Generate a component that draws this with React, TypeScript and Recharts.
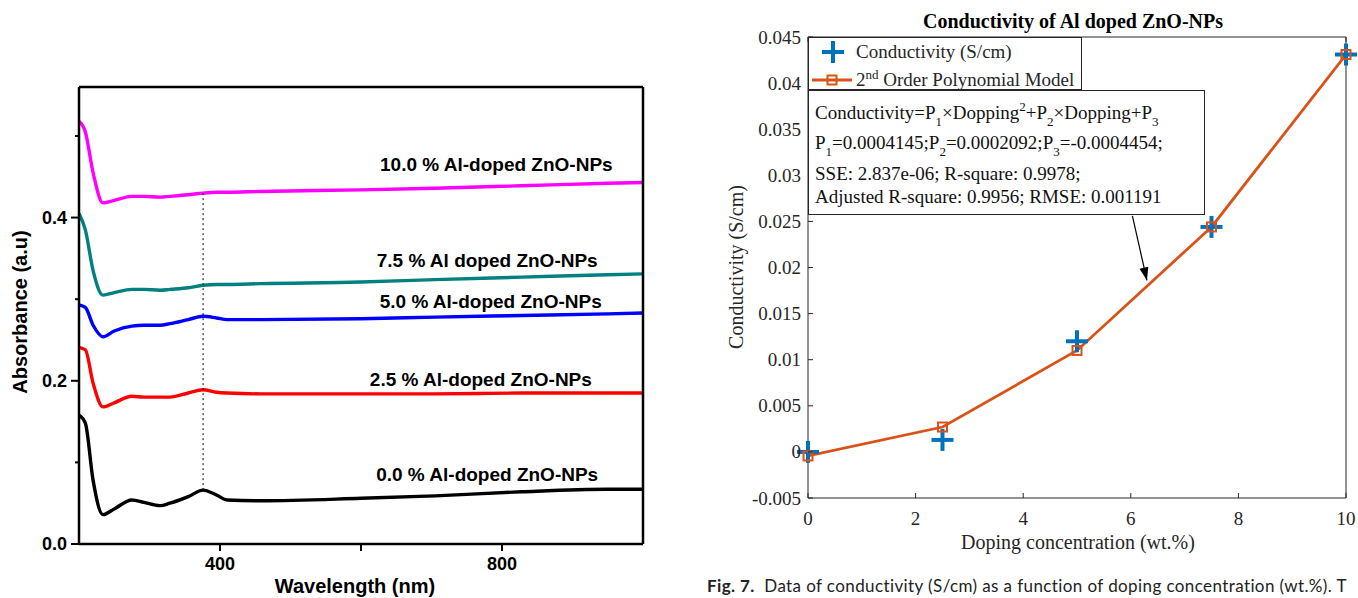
import React from 'react'
import { LineChart, Line, XAxis, YAxis, ReferenceLine, ReferenceDot, Legend } from 'recharts'

const SANS = '"Liberation Sans", Arial, sans-serif'
const SERIF = '"Liberation Serif", "Times New Roman", serif'

// left panel: UV-vis absorbance spectra
const wavelength = [200, 209, 220, 234, 250, 275, 292, 315, 329, 355, 376, 395, 410, 458, 600, 705, 828, 950, 1000]
const abs00 = [0.158, 0.148, 0.078, 0.036, 0.043, 0.054, 0.051, 0.047, 0.05, 0.058, 0.066, 0.06, 0.054, 0.053, 0.056, 0.059, 0.064, 0.067, 0.067]
const abs25 = [0.241, 0.238, 0.197, 0.168, 0.173, 0.181, 0.18, 0.18, 0.18, 0.185, 0.189, 0.186, 0.185, 0.184, 0.184, 0.184, 0.185, 0.185, 0.185]
const abs50 = [0.293, 0.29, 0.268, 0.254, 0.261, 0.267, 0.268, 0.268, 0.27, 0.275, 0.279, 0.277, 0.275, 0.275, 0.276, 0.278, 0.28, 0.282, 0.283]
const abs75 = [0.405, 0.385, 0.335, 0.305, 0.308, 0.312, 0.312, 0.311, 0.312, 0.314, 0.317, 0.318, 0.318, 0.319, 0.321, 0.324, 0.327, 0.33, 0.331]
const abs100 = [0.518, 0.505, 0.455, 0.418, 0.421, 0.426, 0.426, 0.425, 0.426, 0.428, 0.43, 0.431, 0.431, 0.432, 0.434, 0.436, 0.439, 0.442, 0.443]
const wlTicks = [400, 600, 800]
const absTicks = [0, 0.1, 0.2, 0.3, 0.4, 0.5]

const spectra = wavelength.map((w, i) => ({
  w,
  a00: abs00[i],
  a25: abs25[i],
  a50: abs50[i],
  a75: abs75[i],
  a100: abs100[i],
}))

const curves = [
  { key: 'a00', color: '#000000', name: '0.0 % Al-doped ZnO-NPs', lx: 779, ly: 0.085 },
  { key: 'a25', color: '#ff0000', name: '2.5 % Al-doped ZnO-NPs', lx: 770, ly: 0.201 },
  { key: 'a50', color: '#0000ff', name: '5.0 % Al-doped ZnO-NPs', lx: 784, ly: 0.297 },
  { key: 'a75', color: '#008080', name: '7.5 % Al doped ZnO-NPs', lx: 779, ly: 0.348 },
  { key: 'a100', color: '#ff00ff', name: '10.0 % Al-doped ZnO-NPs', lx: 792, ly: 0.465 },
]

// right panel: conductivity vs doping
const doping = [0, 2.5, 5, 7.5, 10]
const conductivity = [0, 0.0013, 0.012, 0.0244, 0.0431]
const polyModel = [-0.00044, 0.0027, 0.011, 0.0244, 0.0431]
const dopingTicks = [0, 2, 4, 6, 8, 10]
const condTicks = [-0.005, 0, 0.005, 0.01, 0.015, 0.02, 0.025, 0.03, 0.035, 0.04, 0.045]

const condData = doping.map((d, i) => ({ d, cond: conductivity[i], model: polyModel[i] }))

const BLUE = '#0072bd'
const ORANGE = '#d95319'
const AX = '#262626'

const AbsTick = ({ x, y, payload }: any) => {
  const k = Math.round(payload.value * 10)
  const major = k % 2 === 0
  return (
    <g>
      <line x1={x} x2={x - (major ? 8 : 4)} y1={y} y2={y} stroke="#000" strokeWidth={2} />
      {major && (
        <text x={x - 12} y={y} textAnchor="end" dominantBaseline="central" fontFamily={SANS} fontWeight={700} fontSize={18} fill="#000">
          {(k / 10).toFixed(1)}
        </text>
      )}
    </g>
  )
}

const fmtCond = (v: number) => parseFloat(v.toFixed(3)).toString()

const CondTick = ({ x, y, payload }: any) => (
  <g>
    <line x1={x} x2={x + 5} y1={y} y2={y} stroke={AX} strokeWidth={1} />
    <text x={x - 7} y={y} textAnchor="end" dominantBaseline="central" fontFamily={SERIF} fontSize={19} fill={AX}>
      {fmtCond(payload.value)}
    </text>
  </g>
)

const DopingTick = ({ x, y, payload }: any) => (
  <g>
    <line x1={x} x2={x} y1={y} y2={y - 5} stroke={AX} strokeWidth={1} />
    <text x={x} y={y + 20} textAnchor="middle" dominantBaseline="central" fontFamily={SERIF} fontSize={19} fill={AX}>
      {payload.value}
    </text>
  </g>
)

const RightInnerTick = ({ x, y }: any) => <line x1={x} x2={x - 5} y1={y} y2={y} stroke={AX} strokeWidth={1} />
const TopInnerTick = ({ x, y }: any) => <line x1={x} x2={x} y1={y} y2={y + 5} stroke={AX} strokeWidth={1} />

const PlusDot = (p: any) => {
  const { cx, cy, index } = p
  return (
    <g key={`plus-${index}`}>
      <line x1={cx - 11} x2={cx + 11} y1={cy} y2={cy} stroke={BLUE} strokeWidth={4} />
      <line x1={cx} x2={cx} y1={cy - 11} y2={cy + 11} stroke={BLUE} strokeWidth={4} />
    </g>
  )
}

const SquareDot = (p: any) => {
  const { cx, cy, index } = p
  return <rect key={`sq-${index}`} x={cx - 4.5} y={cy - 4.5} width={9} height={9} fill="none" stroke={ORANGE} strokeWidth={2} />
}

const ArrowHead = ({ cx, cy }: any) => (
  <path d="M0,0 L-13,-4.5 L-13,4.5 Z" fill="#000" transform={`translate(${cx},${cy}) rotate(76.6)`} />
)

const ConductivityLegend = () => (
  <div
    style={{
      width: 274,
      height: 53,
      boxSizing: 'border-box',
      border: `1px solid ${AX}`,
      background: '#fff',
      fontFamily: SERIF,
      fontSize: 19,
      color: AX,
      position: 'relative',
    }}
  >
    <svg width={50} height={53} style={{ position: 'absolute', left: 0, top: 0 }}>
      <line x1={13} x2={35} y1={14} y2={14} stroke={BLUE} strokeWidth={4} />
      <line x1={24} x2={24} y1={3} y2={25} stroke={BLUE} strokeWidth={4} />
      <line x1={3} x2={43} y1={42} y2={42} stroke={ORANGE} strokeWidth={3} />
      <rect x={18.5} y={37.5} width={9} height={9} fill="none" stroke={ORANGE} strokeWidth={2} />
    </svg>
    <div style={{ position: 'absolute', left: 47, top: 3, lineHeight: '22px', whiteSpace: 'nowrap' }}>Conductivity (S/cm)</div>
    <div style={{ position: 'absolute', left: 47, top: 31, lineHeight: '22px', whiteSpace: 'nowrap' }}>
      2<sup style={{ fontSize: 13, verticalAlign: '7px', lineHeight: 0 }}>nd</sup> Order Polynomial Model
    </div>
  </div>
)

const sub = (t: string) => <sub style={{ fontSize: 13, verticalAlign: '-7px', lineHeight: 0 }}>{t}</sub>
const sup = (t: string) => <sup style={{ fontSize: 13, verticalAlign: '8px', lineHeight: 0 }}>{t}</sup>

export default function App() {
  return (
    <div style={{ position: 'absolute', left: 0, top: 0, width: 1358, height: 598, overflow: 'hidden', background: '#fff' }}>
      {/* left panel */}
      <div style={{ position: 'absolute', left: 0, top: 0 }}>
        <LineChart width={660} height={598} data={spectra} margin={{ top: 77, right: 7, bottom: 14, left: 19 }}>
          <XAxis
            xAxisId="b"
            dataKey="w"
            type="number"
            domain={[200, 1000]}
            ticks={wlTicks}
            interval={0}
            height={40}
            axisLine={{ stroke: '#000', strokeWidth: 2.5 }}
            tickLine={{ stroke: '#000', strokeWidth: 2 }}
            tickSize={7}
            tickMargin={6}
            tick={{ fontSize: 18, fontWeight: 700, fill: '#000', fontFamily: SANS }}
            tickFormatter={(v: number) => (v === 400 || v === 800 ? String(v) : '')}
          />
          <XAxis
            xAxisId="t"
            orientation="top"
            type="number"
            domain={[200, 1000]}
            ticks={wlTicks}
            interval={0}
            height={10}
            axisLine={{ stroke: '#000', strokeWidth: 2.5 }}
            tickLine={{ stroke: '#000', strokeWidth: 2 }}
            tickSize={5}
            tick={false}
          />
          <YAxis
            yAxisId="l"
            type="number"
            domain={[0, 0.56]}
            ticks={absTicks}
            interval={0}
            width={60}
            axisLine={{ stroke: '#000', strokeWidth: 2.5 }}
            tickLine={false}
            tickSize={0}
            tickMargin={0}
            tick={AbsTick}
          />
          <YAxis
            yAxisId="r"
            orientation="right"
            type="number"
            domain={[0, 0.56]}
            ticks={absTicks}
            interval={0}
            width={10}
            axisLine={{ stroke: '#000', strokeWidth: 2.5 }}
            tickLine={{ stroke: '#000', strokeWidth: 2 }}
            tickSize={4}
            tick={false}
          />
          {curves.map((c) => (
            <Line
              key={c.key}
              xAxisId="b"
              yAxisId="l"
              type="monotone"
              dataKey={c.key}
              stroke={c.color}
              strokeWidth={3.4}
              dot={false}
              isAnimationActive={false}
            />
          ))}
          <ReferenceLine
            xAxisId="b"
            yAxisId="l"
            segment={[
              { x: 376, y: 0.066 },
              { x: 376, y: 0.43 },
            ]}
            stroke="#000"
            strokeWidth={1}
            strokeDasharray="2 3"
          />
          {curves.map((c) => (
            <ReferenceDot
              key={`lbl-${c.key}`}
              xAxisId="b"
              yAxisId="l"
              x={c.lx}
              y={c.ly}
              r={1}
              shape={(p: any) => (
                <text x={p.cx} y={p.cy} textAnchor="middle" dominantBaseline="central" fontFamily={SANS} fontWeight={700} fontSize={19} fill="#000">
                  {c.name}
                </text>
              )}
            />
          ))}
        </LineChart>
        <div
          style={{
            position: 'absolute',
            left: 255,
            top: 574,
            width: 200,
            textAlign: 'center',
            fontFamily: SANS,
            fontWeight: 700,
            fontSize: 20,
            lineHeight: '24px',
          }}
        >
          Wavelength (nm)
        </div>
        <div
          style={{
            position: 'absolute',
            left: 20 - 110,
            top: 312 - 12,
            width: 220,
            textAlign: 'center',
            transform: 'rotate(-90deg)',
            fontFamily: SANS,
            fontWeight: 700,
            fontSize: 20,
            lineHeight: '24px',
          }}
        >
          Absorbance (a.u)
        </div>
      </div>

      {/* right panel */}
      <div style={{ position: 'absolute', left: 700, top: 0 }}>
        <LineChart width={658} height={598} data={condData} margin={{ top: 36, right: 11, bottom: 70, left: 48 }}>
          <XAxis
            xAxisId="b"
            dataKey="d"
            type="number"
            domain={[0, 10]}
            ticks={dopingTicks}
            interval={0}
            height={30}
            axisLine={{ stroke: AX, strokeWidth: 1 }}
            tickLine={false}
            tickSize={0}
            tickMargin={0}
            tick={DopingTick}
          />
          <XAxis
            xAxisId="t"
            orientation="top"
            type="number"
            domain={[0, 10]}
            ticks={dopingTicks}
            interval={0}
            height={1}
            axisLine={{ stroke: AX, strokeWidth: 1 }}
            tickLine={false}
            tickSize={0}
            tickMargin={0}
            tick={TopInnerTick}
          />
          <YAxis
            yAxisId="l"
            type="number"
            domain={[-0.005, 0.045]}
            ticks={condTicks}
            interval={0}
            width={60}
            axisLine={{ stroke: AX, strokeWidth: 1 }}
            tickLine={false}
            tickSize={0}
            tickMargin={0}
            tick={CondTick}
          />
          <YAxis
            yAxisId="r"
            orientation="right"
            type="number"
            domain={[-0.005, 0.045]}
            ticks={condTicks}
            interval={0}
            width={1}
            axisLine={{ stroke: AX, strokeWidth: 1 }}
            tickLine={false}
            tickSize={0}
            tickMargin={0}
            tick={RightInnerTick}
          />
          <Line
            xAxisId="b"
            yAxisId="l"
            dataKey="cond"
            name="Conductivity (S/cm)"
            stroke="none"
            dot={PlusDot}
            activeDot={false}
            isAnimationActive={false}
          />
          <Line
            xAxisId="b"
            yAxisId="l"
            type="linear"
            dataKey="model"
            name="2nd Order Polynomial Model"
            stroke={ORANGE}
            strokeWidth={2.8}
            dot={SquareDot}
            activeDot={false}
            isAnimationActive={false}
          />
          <ReferenceLine
            xAxisId="b"
            yAxisId="l"
            segment={[
              { x: 6.03, y: 0.0256 },
              { x: 6.3, y: 0.0186 },
            ]}
            stroke="#000"
            strokeWidth={1.2}
          />
          <ReferenceDot xAxisId="b" yAxisId="l" x={6.3} y={0.0186} r={1} shape={ArrowHead} />
          <Legend
            layout="vertical"
            align="center"
            verticalAlign="middle"
            wrapperStyle={{ left: 108, top: 37, width: 274, height: 53 }}
            content={ConductivityLegend}
          />
        </LineChart>

        {/* fit annotation box */}
        <div
          style={{
            position: 'absolute',
            left: 108,
            top: 90,
            width: 397,
            height: 125,
            boxSizing: 'border-box',
            border: `1px solid ${AX}`,
            background: '#fff',
            fontFamily: SERIF,
            fontSize: 19,
            color: '#111',
            whiteSpace: 'nowrap',
          }}
        >
          <div style={{ position: 'absolute', left: 6, top: 11, lineHeight: '22px' }}>
            Conductivity=P{sub('1')}×Dopping{sup('2')}+P{sub('2')}×Dopping+P{sub('3')}
          </div>
          <div style={{ position: 'absolute', left: 6, top: 41, lineHeight: '22px' }}>
            P{sub('1')}=0.0004145;P{sub('2')}=0.0002092;P{sub('3')}=-0.0004454;
          </div>
          <div style={{ position: 'absolute', left: 6, top: 72, lineHeight: '22px' }}>SSE: 2.837e-06; R-square: 0.9978;</div>
          <div style={{ position: 'absolute', left: 6, top: 95, lineHeight: '22px' }}>Adjusted R-square: 0.9956; RMSE: 0.001191</div>
        </div>

        <div
          style={{
            position: 'absolute',
            left: 173,
            top: 9,
            width: 400,
            textAlign: 'center',
            fontFamily: SERIF,
            fontWeight: 700,
            fontSize: 20,
            lineHeight: '24px',
            color: '#000',
          }}
        >
          Conductivity of Al doped ZnO-NPs
        </div>
        <div
          style={{
            position: 'absolute',
            left: 36 - 110,
            top: 267 - 12,
            width: 220,
            textAlign: 'center',
            transform: 'rotate(-90deg)',
            fontFamily: SERIF,
            fontSize: 20,
            lineHeight: '24px',
            color: AX,
          }}
        >
          Conductivity (S/cm)
        </div>
        <div
          style={{
            position: 'absolute',
            left: 228,
            top: 530,
            width: 300,
            textAlign: 'center',
            fontFamily: SERIF,
            fontSize: 20,
            lineHeight: '24px',
            color: AX,
          }}
        >
          Doping concentration (wt.%)
        </div>
      </div>

      {/* figure caption */}
      <div
        style={{
          position: 'absolute',
          left: 707,
          top: 575,
          whiteSpace: 'nowrap',
          fontFamily: 'Lato, sans-serif',
          fontSize: 17,
          letterSpacing: 0.4,
          lineHeight: '22px',
          color: '#222',
        }}
      >
        <b>Fig. 7.</b>&nbsp; Data of conductivity (S/cm) as a function of doping concentration (wt.%). T
      </div>
    </div>
  )
}
